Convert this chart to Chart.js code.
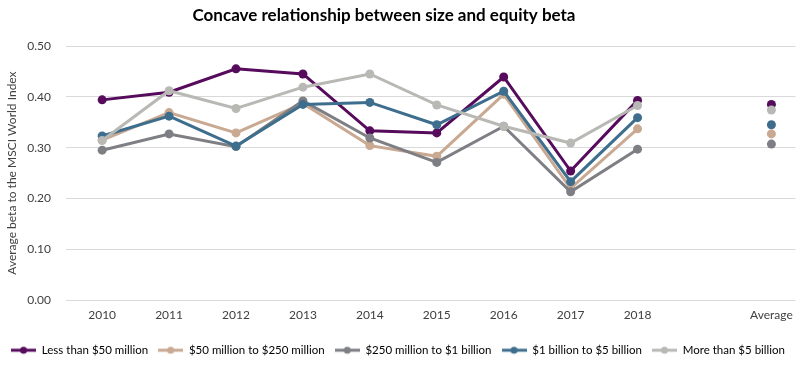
<!DOCTYPE html>
<html>
<head>
<meta charset="utf-8">
<script src="https://cdn.jsdelivr.net/npm/chart.js@4"></script>
<style>
  html, body { margin: 0; padding: 0; background: #fff; }
  #wrap { width: 800px; height: 369px; }
</style>
</head>
<body>
<div id="wrap"><canvas id="grafico"></canvas></div>
<script>
// Categorias (o índice 9 fica vazio, separa a média)
const categorias = ['2010', '2011', '2012', '2013', '2014', '2015', '2016', '2017', '2018', '', 'Average'];

// Séries (null = sem ponto)
const menosDe50m = [0.394, 0.409, 0.455, 0.445, 0.333, 0.329, 0.439, 0.254, 0.393, null, 0.385];
const de50a250m = [0.315, 0.369, 0.329, 0.387, 0.304, 0.283, 0.405, 0.220, 0.337, null, 0.327];
const de250mA1b = [0.295, 0.327, 0.302, 0.392, 0.319, 0.271, 0.342, 0.213, 0.297, null, 0.307];
const de1a5b = [0.323, 0.362, 0.303, 0.385, 0.389, 0.345, 0.411, 0.233, 0.359, null, 0.345];
const maisDe5b = [0.314, 0.412, 0.377, 0.419, 0.445, 0.384, 0.342, 0.309, 0.383, null, 0.374];

// Eixo Y
const ticksY = [0, 0.1, 0.2, 0.3, 0.4, 0.5];

const titulo = 'Concave relationship between size and equity beta';
const fonte = "Lato, 'Open Sans', sans-serif";

function serie(nome, valores, cor, ordem) {
  return {
    label: nome,
    data: valores.map((v, i) => ({ x: i, y: v })),
    borderColor: cor,
    backgroundColor: cor,
    borderWidth: 3,
    pointRadius: 4.5,
    pointHoverRadius: 4.5,
    pointBorderWidth: 0,
    spanGaps: false,
    tension: 0,
    order: ordem
  };
}

// ícone da legenda: linha com bolinha
function iconeLegenda(cor) {
  const c = document.createElement('canvas');
  c.width = 25;
  c.height = 10;
  const g = c.getContext('2d');
  g.strokeStyle = cor;
  g.lineWidth = 3;
  g.beginPath();
  g.moveTo(0, 5);
  g.lineTo(25, 5);
  g.stroke();
  g.fillStyle = cor;
  g.beginPath();
  g.arc(12.5, 5, 3.5, 0, Math.PI * 2);
  g.fill();
  return c;
}

// Título desenhado à mão (fica um pouco à esquerda do centro, como no original)
const pluginTitulo = {
  id: 'pluginTitulo',
  afterDraw(chart) {
    const c = chart.ctx;
    c.save();
    c.font = "bold 17px " + fonte;
    c.fillStyle = '#000';
    c.textAlign = 'center';
    c.textBaseline = 'middle';
    c.fillText(titulo, 384, 16);
    c.restore();
  }
};

const ctx = document.getElementById('grafico').getContext('2d');

new Chart(ctx, {
  type: 'line',
  data: {
    datasets: [
      serie('Less than $50 million', menosDe50m, '#560b5c', 5),
      serie('$50 million to $250 million', de50a250m, '#c9a991', 4),
      serie('$250 million to $1 billion', de250mA1b, '#7e7f84', 3),
      serie('$1 billion to $5 billion', de1a5b, '#3e6e8d', 2),
      serie('More than $5 billion', maisDe5b, '#b8b9b4', 1)
    ]
  },
  plugins: [pluginTitulo],
  options: {
    responsive: true,
    maintainAspectRatio: false,
    animation: false,
    layout: { padding: { left: 0, right: 4, top: 46, bottom: 3 } },
    scales: {
      x: {
        type: 'linear',
        min: -0.54,
        max: 10.36,
        grid: { display: false },
        border: { display: false },
        afterBuildTicks: (scale) => {
          scale.ticks = categorias
            .map((c, i) => ({ value: i }))
            .filter((t) => categorias[t.value] !== '');
        },
        afterFit: (scale) => { scale.height += 12; },
        ticks: {
          autoSkip: false,
          maxRotation: 0,
          padding: 0,
          color: '#404040',
          font: { family: fonte, size: 12 },
          callback: (v) => categorias[v]
        }
      },
      y: {
        min: 0,
        max: 0.5,
        afterBuildTicks: (scale) => {
          scale.ticks = ticksY.map((v) => ({ value: v }));
        },
        afterFit: (scale) => { scale.width = 66; },
        grid: { color: '#d9d9d9', drawTicks: false, lineWidth: 1 },
        border: { display: false },
        ticks: {
          padding: 15,
          color: '#404040',
          font: { family: fonte, size: 12 },
          callback: (v) => v.toFixed(2)
        },
        title: {
          display: true,
          text: 'Average beta to the MSCI World Index',
          color: '#404040',
          padding: { top: 5, bottom: 0 },
          font: { family: fonte, size: 12 }
        }
      }
    },
    plugins: {
      title: { display: false },
      legend: {
        position: 'bottom',
        labels: {
          usePointStyle: true,
          pointStyleWidth: 25,
          padding: 10,
          color: '#000',
          font: { family: fonte, size: 11.5 },
          generateLabels: (chart) => chart.data.datasets.map((ds, i) => ({
            text: ds.label,
            pointStyle: iconeLegenda(ds.borderColor),
            fillStyle: ds.borderColor,
            strokeStyle: ds.borderColor,
            lineWidth: 0,
            fontColor: '#000',
            datasetIndex: i
          }))
        }
      },
      tooltip: { enabled: false }
    }
  }
});
</script>
</body>
</html>
